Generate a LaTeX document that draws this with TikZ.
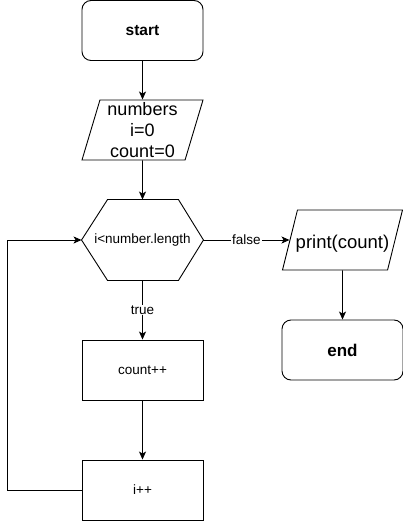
\documentclass[tikz,border=0pt]{standalone}
\usepackage{fontspec}
\setmainfont{Liberation Sans}
\usetikzlibrary{shapes.geometric,arrows.meta,positioning}

\begin{document}
\begin{tikzpicture}[x=1pt,y=1pt,line width=0.9pt,
        term/.style={draw,rounded corners=9pt,minimum width=121pt,minimum height=60pt,font=\bfseries},
        io/.style={draw,trapezium,trapezium stretches body,inner xsep=0pt,align=center,minimum height=60pt},
        proc/.style={draw,minimum width=121pt,minimum height=60pt,font=\fontsize{13.5}{16}\selectfont},
        line/.style={-{Stealth[length=8pt,width=7pt,inset=2pt]}},
        lbl/.style={fill=white,inner sep=1pt,font=\fontsize{13.5}{15}\selectfont}]
        \useasboundingbox (0,0) rectangle (403,-521);
        \node[term,font=\fontsize{15.5}{18}\bfseries] (start) at (142.5,-30.5) {start};
        \node[io,inner ysep=0pt,trapezium left angle=72,trapezium right angle=108,minimum width=121pt,
              font=\fontsize{18}{21}\selectfont] (init) at (142.5,-130) {numbers\\i=0\\count=0};
        \node[minimum width=121pt,minimum height=80pt,font=\fontsize{13.5}{16}\selectfont] (cond) at (142.5,-240) {i<number.length};
        \draw (cond.west) -- ([xshift=26pt]cond.north west) -- ([xshift=-25pt]cond.north east)
              -- (cond.east) -- ([xshift=-25pt]cond.south east) -- ([xshift=26pt]cond.south west) -- cycle;
        \node[proc] (cnt) at (142.5,-370) {count++};
        \node[proc] (inc) at (142.5,-490) {i++};
        \node[io,inner ysep=0pt,text height=38pt,text depth=22pt,trapezium left angle=76,trapezium right angle=104,minimum width=120pt,
              font=\fontsize{18.5}{21}\selectfont] (print) at (342.5,-240) {\makebox[80pt]{print(count)}};
        \node[term,font=\fontsize{17}{20}\bfseries] (end) at (342.5,-350) {end};
        \coordinate (back) at (7.5,-490);

        \draw[line] (start) -- (init);
        \draw[line] (init) -- (cond);
        \draw[line] (cond) -- node[lbl] {true} (cnt);
        \draw[line] (cnt) -- (inc);
        \draw[line] (cond) -- node[lbl] {false} (cond -| print.west);
        \draw[line] (print) -- (end);
        \draw[line] (inc.west) -- (back) |- (cond.west);
\end{tikzpicture}
\end{document}
